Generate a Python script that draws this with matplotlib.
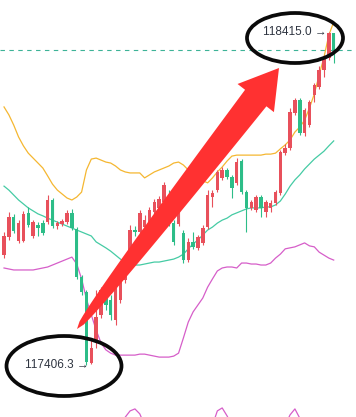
import matplotlib

matplotlib.use("Agg")

import matplotlib.pyplot as plt
import numpy as np
from matplotlib.patches import Ellipse, Polygon

nan = np.nan

# candle data (price), one entry per candle
opens = [117739, 117794, 117854, 117782, 117782, 117867, 117797, 117830, 117836, 117839,
         117906, 117827, 117833, 117839, 117867, 117818, 117673, 117627, 117412, 117482,
         117558, 117618, 117603, 117542, 117603, 117664, 117733, 117815, 117809, 117824,
         117770, 117870, 117882, 117900, 117918, 117836, 117833, 117806, 117724, 117779,
         117761, 117776, 117824, 117915, 117936, 117973, 117997, 117976, 117958, 118024,
         117930, 117882, 117876, 117915, 117870, 117882, 117897, 117927, 118048, 118064,
         118170, 118209, 118109, 118133, 118224, 118248, 118300, 118336, 118412]
closes = [117797, 117854, 117812, 117836, 117864, 117830, 117839, 117821, 117806, 117906,
          117827, 117836, 117842, 117867, 117821, 117673, 117627, 117415, 117458, 117552,
          117633, 117588, 117558, 117642, 117685, 117724, 117815, 117809, 117867, 117845,
          117876, 117900, 117909, 117951, 117836, 117779, 117873, 117724, 117779, 117764,
          117794, 117821, 117921, 117927, 117991, 117997, 117976, 117942, 118021, 117930,
          117882, 117900, 117915, 117882, 117900, 117897, 117930, 118051, 118064, 118173,
          118209, 118109, 118179, 118203, 118254, 118300, 118336, 118412, 118360]
highs = [117809, 117870, 117864, 117845, 117873, 117885, 117845, 117839, 117845, 117921,
         117912, 117842, 117848, 117876, 117879, 117824, 117679, 117633, 117488, 117633,
         117642, 117655, 117618, 117664, 117700, 117736, 117830, 117827, 117876, 117861,
         117885, 117909, 117918, 117961, 117936, 117845, 117882, 117815, 117791, 117809,
         117800, 117830, 117936, 117936, 117997, 118006, 118003, 117982, 118033, 118030,
         117936, 117906, 117921, 117921, 117906, 117906, 117936, 118058, 118076, 118185,
         118215, 118215, 118185, 118209, 118261, 118312, 118345, 118415.0, 118412]
lows = [117730, 117785, 117806, 117776, 117779, 117824, 117791, 117797, 117800, 117833,
        117821, 117818, 117827, 117833, 117815, 117667, 117618, 117406.3, 117409, 117458,
        117548, 117573, 117542, 117527, 117594, 117655, 117724, 117797, 117800, 117815,
        117764, 117864, 117876, 117894, 117827, 117770, 117827, 117715, 117718, 117758,
        117755, 117770, 117818, 117885, 117930, 117967, 117970, 117912, 117951, 117924,
        117809, 117876, 117870, 117854, 117854, 117870, 117891, 117921, 118042, 118058,
        118164, 118103, 118100, 118127, 118203, 118242, 118279, 118330, 118321]

# bollinger bands
boll_upper = [118188, 118164, 118133, 118097, 118070, 118048, 118033, 118018, 118003, 117979,
              117954, 117936, 117924, 117912, 117906, 117915, 117930, 117997, 118030, 118033,
              118027, 118021, 118018, 118009, 117997, 117991, 117988, 117988, 117988, 117973,
              117982, 117991, 117997, 118003, 118009, 118018, 118021, 118012, 117997, 117988,
              117979, 117964, 117958, 117973, 117991, 118006, 118024, 118039, 118042, 118042,
              118042, 118042, 118042, 118042, 118045, 118045, 118048, 118061, 118073, 118088,
              118112, 118127, 118148, 118185, 118227, 118285, 118339, 118406, 118445]
boll_mid = [117948, 117936, 117921, 117906, 117894, 117882, 117873, 117864, 117858, 117851,
            117845, 117839, 117833, 117827, 117821, 117815, 117809, 117803, 117797, 117779,
            117770, 117761, 117751, 117739, 117727, 117718, 117712, 117709, 117709, 117712,
            117715, 117718, 117718, 117721, 117724, 117727, 117733, 117742, 117758, 117773,
            117785, 117800, 117815, 117824, 117836, 117845, 117851, 117861, 117867, 117873,
            117879, 117882, 117882, 117882, 117885, 117885, 117891, 117903, 117924, 117948,
            117967, 117982, 118000, 118015, 118030, 118042, 118054, 118070, 118085]
boll_lower = [117700, 117697, 117694, 117694, 117694, 117694, 117694, 117697, 117700, 117703,
              117709, 117715, 117721, 117727, 117733, 117712, 117667, 117606, 117558, 117512,
              117473, 117452, 117442, 117436, 117436, 117436, 117436, 117436, 117439, 117439,
              117436, 117433, 117430, 117430, 117430, 117433, 117442, 117488, 117536, 117567,
              117588, 117609, 117642, 117667, 117691, 117700, 117703, 117703, 117700, 117715,
              117715, 117712, 117712, 117709, 117709, 117715, 117730, 117742, 117758, 117761,
              117764, 117770, 117776, 117767, 117764, 117748, 117739, 117730, 117724]

# lower-pane indicator, only its peaks reach into view
sub_idx = [24, 25, 26, 27, 28, 29, nan, 43, 44, 45, 46, 47, nan, 58, 59, 60, 61, 62]
sub_vals = [117224, 117248, 117267, 117273, 117258, 117224, nan,
            117224, 117267, 117276, 117252, 117224, nan,
            117224, 117255, 117273, 117245, 117224]

UP = "#E8505B"
DOWN = "#2DBD88"
W, H = 356, 417

plt.rcParams["font.family"] = ["Liberation Sans", "DejaVu Sans"]

fig = plt.figure(figsize=(W / 100, H / 100), dpi=100)
fig.patch.set_facecolor("white")
ax = fig.add_axes([0, 0, 1, 1])
ax.set_axis_off()

idx = np.arange(len(opens))
o = np.array(opens, float)
c = np.array(closes, float)
up = c >= o
colors = np.where(up, UP, DOWN)

ax.vlines(idx, lows, highs, colors=colors, linewidth=0.8, zorder=3)
body_bottom = np.minimum(o, c)
body_height = np.maximum(np.abs(c - o), 3)
ax.bar(idx, body_height, bottom=body_bottom, width=0.72, color=colors, linewidth=0, zorder=4)

ax.plot(idx, boll_upper, color="#F5B731", lw=0.9, zorder=2)
ax.plot(idx, boll_mid, color="#45CBA4", lw=0.9, zorder=2)
ax.plot(idx, boll_lower, color="#D65EC9", lw=0.9, zorder=2)
ax.plot(sub_idx, sub_vals, color="#D65EC9", lw=0.9, zorder=2)

# last price line
ax.axhline(closes[-1], color="#3DB397", lw=0.8, dashes=(4, 4), zorder=1)

ax.set_xlim(-0.83, 72.6)
ax.set_ylim(117248.5, 118512)

hi = int(np.argmax(highs))
lo = int(np.argmin(lows))
ax.text(hi - 0.55, highs[hi], f"{highs[hi]:.1f} \u2192", ha="right", va="center",
        fontsize=8.5, color="#2E3440", zorder=6)
ax.text(lo + 0.35, lows[lo], f"{lows[lo]:.1f} \u2192", ha="right", va="center",
        fontsize=8.5, color="#2E3440", zorder=6)


def px(points):
    pts = np.asarray(points, float)
    return np.column_stack([pts[:, 0] / W, 1 - pts[:, 1] / H])


# red hand-drawn arrow (pixel space, y down)
tail = np.array([77.0, 329.0])
tip = np.array([279.0, 68.0])
u = (tip - tail) / np.hypot(*(tip - tail))
nrm = np.array([-u[1], u[0]])
neck = tip - u * 38
s = np.linspace(0, 1, 40)
centre = tail + np.outer(s, neck - tail)
half = 13.5 * s ** 0.45
left = centre - np.outer(half, nrm)
right = centre + np.outer(half, nrm)
shape = np.vstack([left, [neck - nrm * 23], [tip], [neck + nrm * 23], right[::-1]])
fig.patches.append(Polygon(px(shape), closed=True, transform=fig.transFigure,
                           facecolor="#FF3131", edgecolor="none", zorder=7))

# black circles around the extremes
for cx, cy, ew, eh in [(295, 38, 96, 50), (64, 366, 115, 60)]:
    fig.patches.append(Ellipse((cx / W, 1 - cy / H), ew / W, eh / H, transform=fig.transFigure,
                               fill=False, edgecolor="#0A0A0A", linewidth=2.7, zorder=8))

fig.savefig("out.png", dpi=100, facecolor="white")
